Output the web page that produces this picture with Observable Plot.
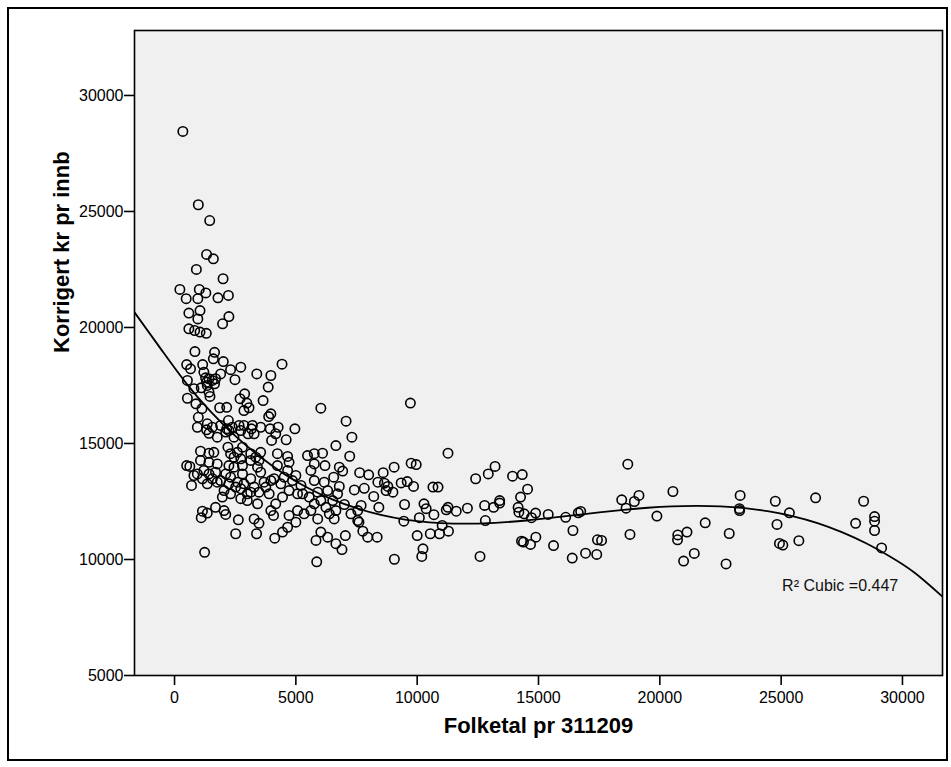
<!DOCTYPE html>
<html><head><meta charset="utf-8">
<script src="https://cdn.jsdelivr.net/npm/d3@7"></script>
<script src="https://cdn.jsdelivr.net/npm/@observablehq/plot@0.6"></script>
<style>body{margin:0;background:#fff;} #chart{width:951px;height:767px;}</style>
</head><body><div id="chart"></div>
<script>
const folketal = [343,980,1450,1320,1600,900,2000,220,1020,1290,480,960,1790,2220,
590,1050,960,2240,1980,590,830,1050,1310,840,1650,500,660,1160,1600,2010,2310,2730,1900,1210,1420,1320,1650,530,2490,3390,3970,4430,3860,800,1100,1460,530,880,1130,1420,2700,2890,2980,3070,2860,1860,2150,3650,3970,3880,6030,980,940,1320,1420,1760,2220,2150,2240,2660,2860,3210,3170,3030,3550,3940,4270,4170,4000,4600,4960,6650,1070,1420,1620,2200,2310,2590,2800,3140,3350,3550,4240,4660,5480,5760,6100,500,630,1070,1420,1760,2240,2800,3480,4240,4720,5760,6200,6790,
700,940,1210,1420,1690,2110,1350,1760,2310,2590,2800,3140,3550,3690,2040,1970,2310,2730,2730,3000,3140,3480,3900,3420,4660,4100,4380,4720,5000,5070,5280,5550,5620,6170,5900,6560,6030,6520,4170,1690,1150,1100,1350,2040,2110,2630,3280,3480,3970,4080,4720,5070,5000,5340,5620,5900,6380,6580,4660,4450,4130,2520,3380,6030,5830,6310,6650,1240,5860,
1280,1560,1350,1690,1350,1560,1900,2110,2380,2450,2730,3280,2450,2730,3140,2450,3420,800,1150,1560,1900,2240,2520,2860,3000,3280,3760,3970,4520,4860,5210,5760,6310,6720,4450,5760,6240,6650,
9720,7070,7310,7220,11270,9750,9960,9050,6930,7630,8000,8600,8380,8650,8790,9000,8720,9340,9590,9850,6790,7410,7820,8210,10650,10860,12410,12930,13210,13930,14330,14550,14260,18680,18430,7000,7690,8420,9480,10280,10370,10690,11270,11200,11610,12070,12780,13150,13400,13400,14160,14190,14410,14880,14710,15400,16120,16640,16740,18610,7270,7550,7550,7600,9450,10090,11030,12810,7040,7760,7960,8350,10000,10540,10920,11290,6900,10240,10190,9060,12590,14300,14380,14670,14890,15620,16420,16390,16940,17400,17430,17600,18770,
19140,18950,20540,19880,23310,23280,23290,21870,21120,20740,20730,22860,21420,20980,22730,24760,26420,28400,25340,24830,24930,25070,25730,28070,28850,28850,28850,29140];
const korrigert = [28450,25290,24610,23150,22960,22500,22100,21640,21640,21490,21240,21240,21280,21380,
20620,20730,20370,20470,20160,19940,19870,19800,19750,18960,18930,18400,18220,18400,18650,18530,18180,18290,18000,18070,17790,17640,17570,17720,17750,18000,17930,18420,17430,17360,17400,17030,16950,16710,16500,17210,16930,17140,16740,16540,16420,16540,16560,16850,16280,16160,16520,16130,15700,15590,15440,15270,15990,15630,15560,15780,15780,15780,15630,15420,15700,15630,15700,15420,15130,15160,15630,14910,14670,14580,14620,14840,14560,14620,14840,14560,14410,14620,14560,14440,14480,14560,14580,14050,14010,14270,14190,14120,14050,14050,14270,14050,14190,14120,14050,13980,
13190,13690,13840,13690,13760,13690,13260,13330,13550,13330,13690,13480,13760,13330,12970,12690,12830,13050,12620,12540,12900,12900,12830,12400,13840,13480,13260,12970,13620,12830,12830,12690,13840,13330,12900,13550,12540,12540,12400,12250,12080,11800,12000,12110,11940,11710,11750,11560,12110,11900,11900,12110,11610,11970,12110,11750,11970,11750,11390,11180,10920,11110,11110,11180,10820,10960,10680,10310,9900,
17830,17720,17500,17790,15850,15700,15780,15490,15700,15270,15560,15420,14410,14340,14270,13980,13980,13620,13480,13480,13400,13260,13120,13260,12830,13120,13120,13400,13550,13400,13190,13400,12970,12830,12690,12400,12250,12110,
16740,15960,15270,14450,14580,14150,14090,13980,13810,13740,13650,13740,13330,13290,13150,12900,12970,13300,13360,13150,13150,13000,13070,12720,13120,13120,13480,13690,14010,13590,13660,13030,12690,14110,12570,12370,12330,12250,12370,12400,12190,11930,12250,12140,12080,12210,12330,12250,12540,12430,12250,12040,11970,12000,11800,11940,11820,12010,12070,12210,11970,12110,11680,11610,11650,11800,11470,11680,11030,11220,10960,10960,11030,11110,11110,11220,10430,10460,10130,10010,10130,10790,10750,10650,10960,10600,11250,10060,10270,10220,10850,10820,11080,
12760,12500,12930,11870,12760,12190,12110,11580,11180,11060,10850,11120,10260,9930,9810,12510,12660,12510,12010,11510,10690,10620,10810,11560,11850,11650,11250,10500];
const fitX = [-1650,-500,500,1500,2500,3500,4500,5500,6500,7500,8500,9500,10500,11500,12500,13500,14500,15500,16500,17500,18500,19500,20500,21500,22500,23500,24500,25500,26500,27500,28500,29500,30500,31650];
const fitY = [20650,18980,17570,16360,15330,14450,13700,13080,12590,12210,11920,11720,11600,11550,11550,11600,11680,11790,11910,12030,12140,12230,12290,12310,12290,12210,12070,11860,11570,11180,10700,10120,9430,8400];
const xTicks = [0,5000,10000,15000,20000,25000,30000];
const yTicks = [5000,10000,15000,20000,25000,30000];
const xLabel = "Folketal pr 311209";
const yLabel = "Korrigert kr pr innb";
const fitLabel = "R² Cubic =0.447";

const points = folketal.map((x, i) => ({x, y: korrigert[i]}));
const fit = fitX.map((x, i) => ({x, y: fitY[i]}));

const chart = Plot.plot({
  width: 951, height: 767,
  marginLeft: 134, marginRight: 9, marginTop: 30, marginBottom: 92,
  style: {fontFamily: "'Liberation Sans', Arial, sans-serif", fontSize: "16px", color: "#000", background: "#fff"},
  x: {domain: [-1650, 31650]},
  y: {domain: [5000, 32800]},
  marks: [
    Plot.frame({fill: "#f0f0f0"}),
    Plot.line(fit, {x: "x", y: "y", stroke: "#000", strokeWidth: 1.8, curve: "natural", clip: true}),
    Plot.dot(points, {x: "x", y: "y", r: 4.7, stroke: "#000", strokeWidth: 1.6, fill: "none"}),
    Plot.text([fitLabel], {x: 25040, y: 8880, text: d => d, textAnchor: "start", fontSize: 16, fill: "#111"}),
    Plot.frame({stroke: "#000", strokeWidth: 1.6}),
    Plot.axisX(xTicks, {tickSize: 10, tickPadding: 6, strokeWidth: 1.6, label: null, tickFormat: "d", fontSize: 16}),
    Plot.axisY(yTicks, {tickSize: 10, tickPadding: 1, strokeWidth: 1.6, label: null, tickFormat: "d", fontSize: 16}),
    Plot.text([xLabel], {frameAnchor: "bottom", dy: 57, text: d => d, fontWeight: "bold", fontSize: 22}),
    Plot.text([yLabel], {frameAnchor: "left", dx: -73, rotate: -90, text: d => d, fontWeight: "bold", fontSize: 22})
  ]
});
d3.select(chart).append("rect")
  .attr("x", 8).attr("y", 8).attr("width", 939).attr("height", 752)
  .attr("fill", "none").attr("stroke", "#000").attr("stroke-width", 2);
document.getElementById("chart").appendChild(chart);
</script>
</body></html>
